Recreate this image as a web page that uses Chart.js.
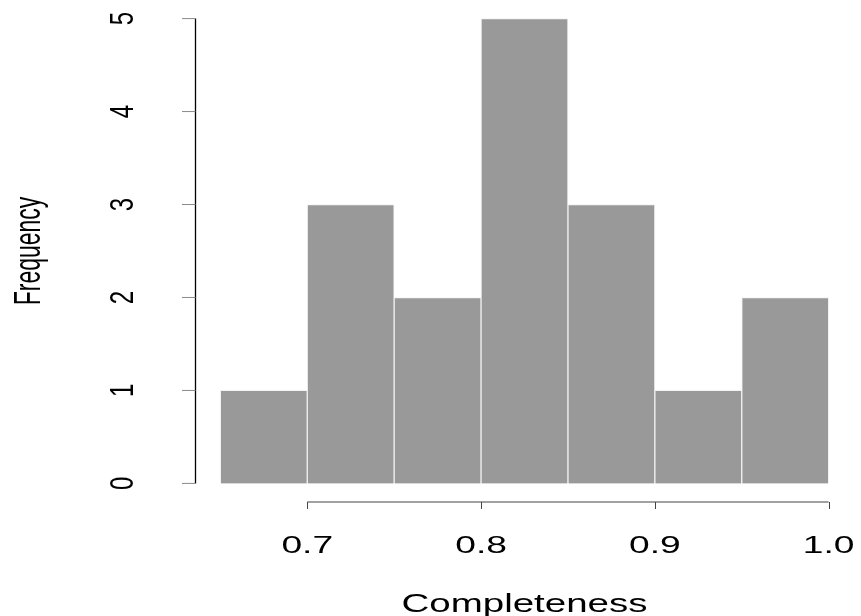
<!DOCTYPE html>
<html>
<head>
<meta charset="utf-8">
<script src="https://cdn.jsdelivr.net/npm/chart.js@4.4.0/dist/chart.umd.min.js"></script>
<style>
html,body{margin:0;padding:0;background:#fff;}
#wrap{width:861px;height:616px;position:relative;}
</style>
</head>
<body>
<div id="wrap"><canvas id="c" width="861" height="616"></canvas></div>
<script>
// Histogram data (bin edges of width 0.05)
const binStarts = [0.65, 0.70, 0.75, 0.80, 0.85, 0.90, 0.95];
const binWidth = 0.05;
const counts = [1, 3, 2, 5, 3, 1, 2];
const xTicks = [0.7, 0.8, 0.9, 1.0];
const xTickLabels = ['0.7', '0.8', '0.9', '1.0'];
const yTicks = [0, 1, 2, 3, 4, 5];
const yTickLabels = ['0', '1', '2', '3', '4', '5'];
const xTitle = 'Completeness';
const yTitle = 'Frequency';

const points = binStarts.map((s, i) => ({x: s + binWidth / 2, y: counts[i]}));

function stretchedText(ctx, text, x, y, font, sx, rot, align, baseline) {
  ctx.save();
  ctx.translate(x, y);
  ctx.scale(sx, 1);
  if (rot) ctx.rotate(rot);
  ctx.font = font;
  ctx.fillStyle = '#000';
  ctx.textAlign = align;
  ctx.textBaseline = baseline;
  ctx.fillText(text, 0, 0);
  ctx.restore();
}

const rAxes = {
  id: 'rAxes',
  afterDraw(chart) {
    const ctx = chart.ctx;
    const xs = chart.scales.x, ys = chart.scales.y;
    const FONT = '24px "Liberation Sans", Arial, sans-serif';
    ctx.save();
    // y axis
    const yAxisX = 195.5;
    const y0 = ys.getPixelForValue(yTicks[0]);
    const y1 = ys.getPixelForValue(yTicks[yTicks.length - 1]);
    ctx.strokeStyle = '#000';
    ctx.lineWidth = 1.3;
    ctx.beginPath();
    ctx.moveTo(yAxisX, y0); ctx.lineTo(yAxisX, y1);
    ctx.stroke();
    ctx.lineWidth = 1;
    ctx.strokeStyle = '#8a8a8a';
    yTicks.forEach((v, i) => {
      const py = ys.getPixelForValue(v);
      ctx.beginPath();
      ctx.moveTo(yAxisX, py); ctx.lineTo(182, py);
      ctx.stroke();
      stretchedText(ctx, yTickLabels[i], 133, py, FONT, 1.4, -Math.PI / 2, 'center', 'alphabetic');
    });
    // x axis
    const xAxisY = 502;
    const xa = xs.getPixelForValue(xTicks[0]);
    const xb = xs.getPixelForValue(xTicks[xTicks.length - 1]);
    ctx.strokeStyle = '#444';
    ctx.beginPath();
    ctx.moveTo(xa, xAxisY); ctx.lineTo(xb, xAxisY);
    ctx.stroke();
    xTicks.forEach((v, i) => {
      const px = Math.round(xs.getPixelForValue(v)) + 0.5;
      ctx.beginPath();
      ctx.moveTo(px, xAxisY); ctx.lineTo(px, 509);
      ctx.stroke();
      stretchedText(ctx, xTickLabels[i], xs.getPixelForValue(v), 553, FONT, 1.55, 0, 'center', 'alphabetic');
    });
    // titles
    stretchedText(ctx, xTitle, (xs.left + xs.right) / 2, 612, '26px "Liberation Sans", Arial, sans-serif', 1.48, 0, 'center', 'alphabetic');
    stretchedText(ctx, yTitle, 40, (ys.top + ys.bottom) / 2, '23px "Liberation Sans", Arial, sans-serif', 1.6, -Math.PI / 2, 'center', 'alphabetic');
    ctx.restore();
  }
};

new Chart(document.getElementById('c'), {
  type: 'bar',
  data: {
    datasets: [{
      data: points,
      backgroundColor: '#999999',
      borderColor: '#f2f2f2',
      borderWidth: 1,
      barPercentage: 1.0,
      categoryPercentage: 1.0
    }]
  },
  options: {
    responsive: false,
    animation: false,
    devicePixelRatio: 1,
    layout: {padding: {left: 196, right: 8, top: 0, bottom: 114}},
    plugins: {legend: {display: false}, tooltip: {enabled: false}},
    scales: {
      x: {type: 'linear', min: 0.636, max: 1.014, display: false, offset: false},
      y: {type: 'linear', min: -0.2, max: 5.2, display: false}
    }
  },
  plugins: [rAxes]
});
</script>
</body>
</html>
